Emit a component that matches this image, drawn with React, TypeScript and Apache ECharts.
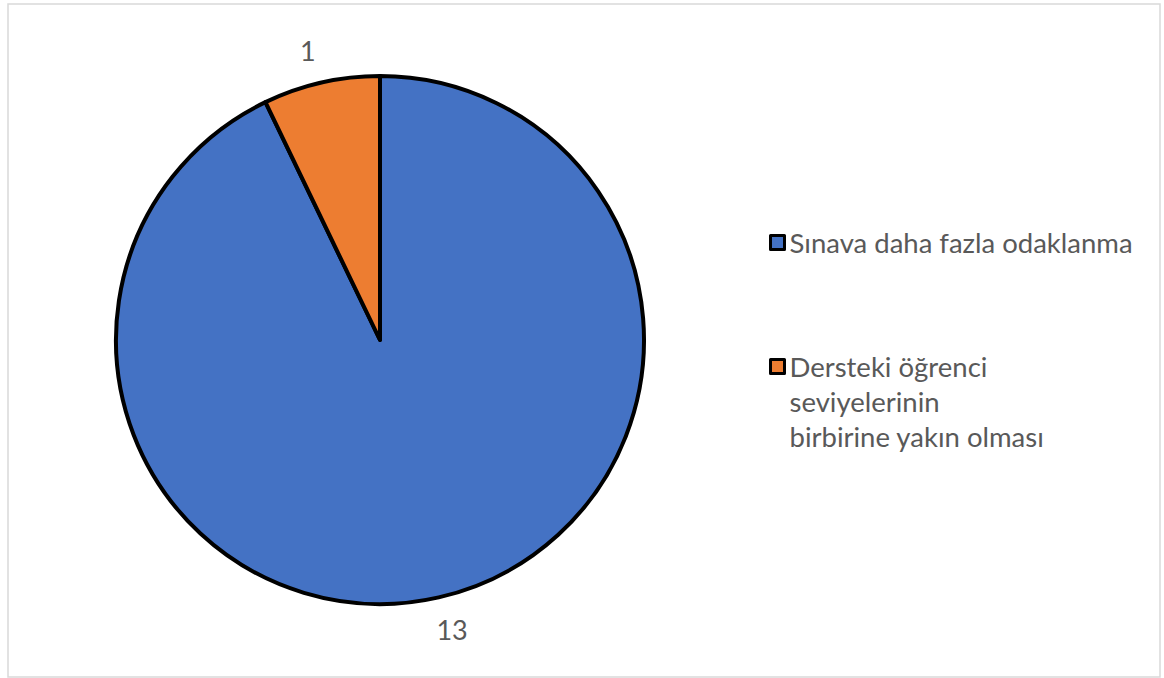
import React, { useEffect, useRef } from "react";
import * as echarts from "echarts";

const categories = ["Sınava daha fazla odaklanma", "Dersteki öğrenci seviyelerinin birbirine yakın olması"];
const values = [13, 1];
const colors = ["#4472C4", "#ED7D31"];
const legendLines: Record<string, string> = {
  "Sınava daha fazla odaklanma": "Sınava daha fazla odaklanma",
  "Dersteki öğrenci seviyelerinin birbirine yakın olması": "\n\nDersteki öğrenci\nseviyelerinin\nbirbirine yakın olması",
};

const FONT = "Lato";
const TEXT = "#595959";

export default function App() {
  const ref = useRef<HTMLDivElement>(null);
  useEffect(() => {
    if (!ref.current) return;
    const chart = echarts.init(ref.current, undefined, { renderer: "svg" });
    const legendBase = {
      orient: "vertical" as const,
      left: 764,
      itemWidth: 14,
      itemHeight: 14,
      selectedMode: false,
      icon: "rect",
      itemStyle: { borderColor: "#000000", borderWidth: 3 },
      formatter: (n: string) => legendLines[n] ?? n,
      textStyle: { fontFamily: FONT, fontSize: 27.5, color: TEXT, lineHeight: 35 },
    };
    chart.setOption({
      animation: false,
      backgroundColor: "#ffffff",
      graphic: [
        {
          type: "rect",
          shape: { x: 8, y: 4, width: 1152, height: 673 },
          style: { fill: "none", stroke: "#d9d9d9", lineWidth: 1.5 },
          silent: true,
        },
      ],
      legend: [
        { ...legendBase, top: 220, data: [categories[0]] },
        { ...legendBase, top: 274, data: [categories[1]] },
      ],
      series: [
        {
          type: "pie",
          center: [380, 340],
          radius: 264,
          startAngle: 90,
          clockwise: true,
          data: categories.map((c, i) => ({ name: c, value: values[i], itemStyle: { color: colors[i] } })),
          itemStyle: { borderColor: "#000000", borderWidth: 4 },
          label: {
            show: true,
            position: "outside",
            formatter: "{c}",
            fontFamily: FONT,
            fontSize: 27,
            color: TEXT,
            distanceToLabelLine: 6,
          },
          labelLine: { show: false, length: 33, length2: 0 },
          labelLayout: { align: "center", verticalAlign: "middle" },
          emphasis: { disabled: true },
        },
      ],
    });
    return () => chart.dispose();
  }, []);
  return <div ref={ref} style={{ position: "fixed", left: 0, top: 0, width: 1164, height: 678 }} />;
}
